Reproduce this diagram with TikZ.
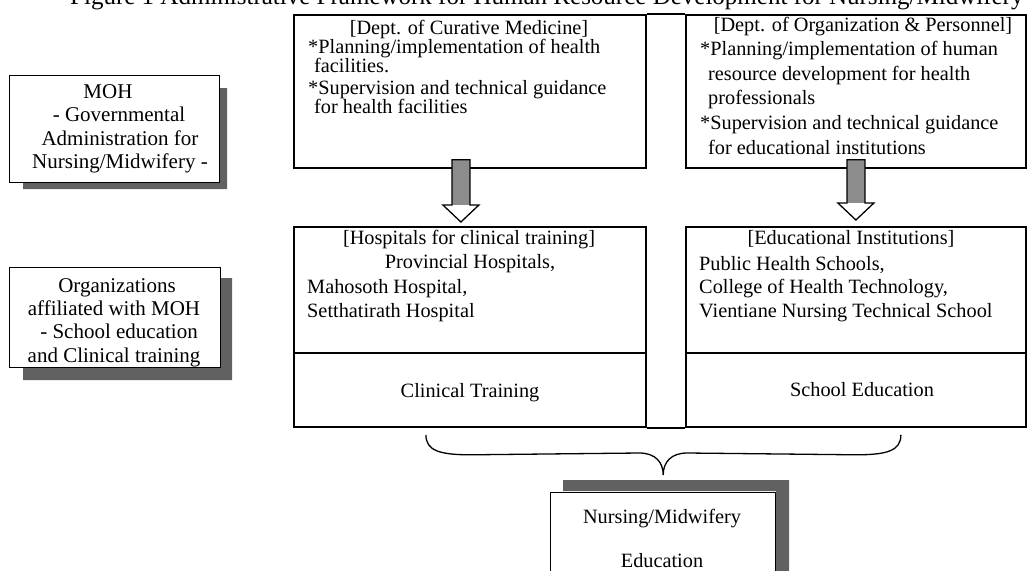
\documentclass[tikz,border=0pt]{standalone}
\usepackage{fontspec}
\setmainfont{Liberation Serif}
\usetikzlibrary{calc}
\begin{document}
\begin{tikzpicture}[x=1pt,y=-1pt,
  bigbox/.style={draw, line width=1.8pt, inner sep=0pt, anchor=north west},
  sidebox/.style={draw, line width=1.4pt, inner sep=0pt, anchor=north west},
  shadowfill/.style={fill=black!62},
  shaftfill/.style={fill=black!45},
  arrowline/.style={draw, line width=1.3pt, line join=miter},
  divline/.style={line width=1.1pt},
  bracestyle/.style={line width=1.3pt},
  txt/.style={inner sep=0pt, font=\fontsize{20.3}{24}\selectfont},
  stxt/.style={inner sep=0pt, font=\fontsize{21}{24}\selectfont}]
\clip (0,0) rectangle (1027,570);
\fill[white] (0,0) rectangle (1027,570);

% title (cut off at the top edge, as in the scan)
\node[txt, anchor=base west, font=\fontsize{25}{28}\selectfont] (title) at (70,4.5)
  {Figure 1 Administrative Framework for Human Resource Development for Nursing/Midwifery};

% ---- main four boxes
\node[bigbox, minimum width=352pt, minimum height=153pt] (tl) at (293,14) {};
\node[bigbox, minimum width=340pt, minimum height=153pt] (tr) at (685,14) {};
\node[bigbox, minimum width=352pt, minimum height=200pt] (ml) at (293,226) {};
\node[bigbox, minimum width=340pt, minimum height=200pt] (mr) at (685,226) {};
\draw[line width=1.8pt] (tl.north east) -- (tr.north west);
\draw[line width=1.8pt] (ml.south east) -- (mr.south west);
\draw[divline] ($(ml.north west)+(0,127)$) coordinate (mld) -- (mld -| ml.east);
\draw[divline] ($(mr.north west)+(0,127)$) coordinate (mrd) -- (mrd -| mr.east);

% ---- top-left text
\node[txt, anchor=base] (tlh) at (469,34) {[Dept. of Curative Medicine]};
\node[txt, anchor=base west] (tl1) at (308,53) {*Planning/implementation of health};
\node[txt, anchor=base west] (tl2) at (314,72) {facilities.};
\node[txt, anchor=base west] (tl3) at (308,94) {*Supervision and technical guidance};
\node[txt, anchor=base west] (tl4) at (314,113) {for health facilities};

% ---- top-right text
\node[txt, anchor=base] (trh) at (863,31) {[Dept. of Organization \& Personnel]};
\node[txt, anchor=base west] (tr1) at (700,55) {*Planning/implementation of human};
\node[txt, anchor=base west] (tr2) at (708,80) {resource development for health};
\node[txt, anchor=base west] (tr3) at (708,104) {professionals};
\node[txt, anchor=base west] (tr4) at (700,129) {*Supervision and technical guidance};
\node[txt, anchor=base west] (tr5) at (708,154) {for educational institutions};

% ---- middle-left text
\node[txt, anchor=base] (mlh) at (469,244) {[Hospitals for clinical training]};
\node[txt, anchor=base] (ml1) at (470,268) {Provincial Hospitals,};
\node[txt, anchor=base west] (ml2) at (307,293) {Mahosoth Hospital,};
\node[txt, anchor=base west] (ml3) at (307,317) {Setthatirath Hospital};
\node[txt, anchor=base] (ml4) at (470,397) {Clinical Training};

% ---- middle-right text
\node[txt, anchor=base] (mrh) at (851,244) {[Educational Institutions]};
\node[txt, anchor=base west] (mr1) at (699,270) {Public Health Schools,};
\node[txt, anchor=base west] (mr2) at (699,293) {College of Health Technology,};
\node[txt, anchor=base west] (mr3) at (699,317) {Vientiane Nursing Technical School};
\node[txt, anchor=base] (mr4) at (862,396) {School Education};

% ---- block arrows
\coordinate (s1) at ($(tl.south)+(-9,-9)$);
\coordinate (t1) at ($(ml.north)+(-9,-4)$);
\coordinate (s2) at ($(tr.south)+(0,-9)$);
\coordinate (t2) at ($(mr.north)+(0,-6)$);
\foreach \s/\t in {s1/t1, s2/t2}{
  \fill[shaftfill] ($(\s)+(-9,0)$) rectangle ($(\t)+(9,-17)$);
  \fill[white] ($(\t)+(-18,-17)$) -- (\t) -- ($(\t)+(18,-17)$) -- cycle;
  \draw[arrowline] ($(\s)+(-9,0)$) -- ($(\t)+(-9,-17)$) -- ($(\t)+(-18,-17)$) -- (\t)
     -- ($(\t)+(18,-17)$) -- ($(\t)+(9,-17)$) -- ($(\s)+(9,0)$) -- cycle;
}

% ---- side boxes with shadows
\fill[shadowfill] (219,88) -- (227,88) -- (227,189) -- (23,189) -- (23,182) -- (219,182) -- cycle;
\node[sidebox, minimum width=210pt, minimum height=107pt, fill=white] (moh) at (9,75) {};
\node[stxt, anchor=base] (moh1) at (108,98) {MOH};
\node[stxt, anchor=base] (moh2) at (119,121.5) {- Governmental};
\node[stxt, anchor=base] (moh3) at (120,145) {Administration for};
\node[stxt, anchor=base] (moh4) at (120,168) {Nursing/Midwifery -};

\fill[shadowfill] (220,278) -- (232,278) -- (232,380) -- (23,380) -- (23,367) -- (220,367) -- cycle;
\node[sidebox, minimum width=211pt, minimum height=100pt, fill=white] (org) at (9,267) {};
\node[stxt, anchor=base] (org1) at (117,292) {Organizations};
\node[stxt, anchor=base] (org2) at (114,315) {affiliated with MOH};
\node[stxt, anchor=base] (org3) at (119,338) {- School education};
\node[stxt, anchor=base] (org4) at (114,362) {and Clinical training};

% ---- bottom box
\fill[shadowfill] (563,480) -- (789,480) -- (789,571) -- (776,571) -- (776,491) -- (563,491) -- cycle;
\node[sidebox, minimum width=225pt, minimum height=90pt, fill=white] (nm) at (550,492) {};
\node[txt, anchor=base] (nm1) at (662,523) {Nursing/Midwifery};
\node[txt, anchor=base] (nm2) at (662,567) {Education};

% ---- brace from the two middle boxes to the bottom box
\coordinate (bl) at ($(ml.south)+(-44,7)$);
\coordinate (br) at ($(mr.south)+(45,7)$);
\coordinate (tip) at ($(nm.north)+(0,-17)$);
\draw[bracestyle] (bl) .. controls ($(bl)+(0,16)$) and ($(bl)+(14,20)$) .. ($(bl)+(45,20)$)
  -- ($(tip)+(-24,-22)$) .. controls ($(tip)+(-8,-22)$) and ($(tip)+(0,-13)$) .. (tip)
  .. controls ($(tip)+(0,-13)$) and ($(tip)+(8,-22)$) .. ($(tip)+(24,-22)$)
  -- ($(br)+(-45,20)$) .. controls ($(br)+(-14,20)$) and ($(br)+(0,16)$) .. (br);
\end{tikzpicture}
\end{document}
